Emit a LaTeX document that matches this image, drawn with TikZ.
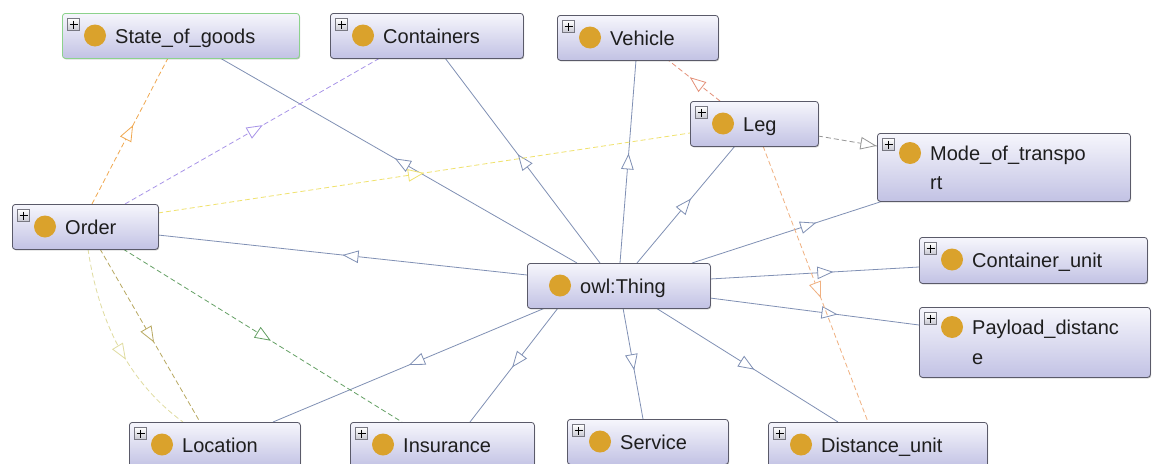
\documentclass[tikz,border=0pt]{standalone}
\usepackage{fontspec}
\setmainfont{Liberation Sans}
\usetikzlibrary{arrows.meta,decorations.markings,calc,backgrounds,shadows}

\definecolor{isacol}{RGB}{128,144,180}
\definecolor{boxtop}{RGB}{246,246,252}
\definecolor{boxbot}{RGB}{194,194,228}
\definecolor{boxline}{RGB}{90,90,105}
\definecolor{gold}{RGB}{218,162,44}
\definecolor{sogline}{RGB}{140,210,140}
\definecolor{txtcol}{RGB}{30,30,30}
\definecolor{corange}{RGB}{240,168,80}
\definecolor{cpurple}{RGB}{168,148,232}
\definecolor{cyellow}{RGB}{240,226,110}
\definecolor{cgrey}{RGB}{150,150,150}
\definecolor{cred}{RGB}{228,144,120}
\definecolor{corange2}{RGB}{240,176,128}
\definecolor{cpale}{RGB}{224,220,160}
\definecolor{colive}{RGB}{184,168,96}
\definecolor{cgreen}{RGB}{100,160,100}

\newcommand{\classbox}[8]{%
  \node[cbox,#6,minimum width=#4pt,minimum height=#5pt,anchor=north west] (#1) at (#2,#3) {};
  \node[golddot] (#1d) at ($(#1.north west)+(33,#7)$) {};
  \node[lbl] (#1t) at ($(#1.north west)+(53,#7+7.5)$) {#8};
}
\newcommand{\plusicon}[1]{%
  \node[plusbox] (#1p) at ($(#1.north west)+(11.5,11.5)$) {};
  \draw[line width=1.5pt,black] ($(#1p.center)+(-4,0)$) -- ($(#1p.center)+(4,0)$)
        ($(#1p.center)+(0,-4)$) -- ($(#1p.center)+(0,4)$);
}

\begin{document}
\begin{tikzpicture}[x=1pt,y=-1pt,
  cbox/.style={draw=boxline, line width=0.8pt, rounded corners=3pt,
    top color=boxtop, bottom color=boxbot, inner sep=0pt,
    drop shadow={shadow xshift=0.8pt, shadow yshift=-1pt, opacity=0.25, fill=black}},
  golddot/.style={circle, fill=gold, minimum size=22pt, inner sep=0pt},
  plusbox/.style={draw={rgb,255:red,120;green,120;blue,130}, line width=0.6pt,
    top color=white, bottom color={rgb,255:red,200;green,200;blue,210},
    minimum size=12pt, inner sep=0pt},
  lbl/.style={anchor=base west, inner sep=0pt, font=\fontsize{20}{24}\selectfont, text=txtcol},
  otri/.tip={Triangle[fill=white,length=16pt,width=12.5pt]},
  midarrow/.style={postaction={decorate},
    decoration={markings, mark=at position #1 with {\arrow{otri}}}},
  isa/.style={draw, color=isacol, line width=0.8pt},
  rel/.style={draw, line width=0.8pt, dash pattern=on 5pt off 3pt}]

\useasboundingbox (0,0) rectangle (1153,463);
\begin{scope}
\clip (0,0) rectangle (1153,463);
\classbox{sog}{62}{13}{237}{45}{draw=sogline}{22.5}{State\_of\_goods}\plusicon{sog}
\classbox{cont}{330}{13}{193}{45}{}{22.5}{Containers}\plusicon{cont}
\classbox{veh}{557}{15}{161}{45}{}{22.5}{Vehicle}\plusicon{veh}
\classbox{leg}{690}{101}{128}{45}{}{22.5}{Leg}\plusicon{leg}
\classbox{mode}{877}{133}{253}{68}{}{20}{\vtop{\baselineskip=29pt\hbox{Mode\_of\_transpo}\hbox{rt}}}\plusicon{mode}
\classbox{order}{12}{204}{146}{45}{}{22.5}{Order}\plusicon{order}
\classbox{thing}{527}{263}{183}{45}{}{22.5}{owl:Thing}
\classbox{cu}{919}{237}{228}{46}{}{22.5}{Container\_unit}\plusicon{cu}
\classbox{pd}{919}{307}{231}{70}{}{20}{\vtop{\baselineskip=30pt\hbox{Payload\_distanc}\hbox{e}}}\plusicon{pd}
\classbox{loc}{129}{422}{171}{45}{}{22.5}{Location}\plusicon{loc}
\classbox{ins}{350}{422}{184}{45}{}{22.5}{Insurance}\plusicon{ins}
\classbox{serv}{567}{419}{161}{45}{}{22.5}{Service}\plusicon{serv}
\classbox{du}{768}{422}{219}{45}{}{22.5}{Distance\_unit}\plusicon{du}
\end{scope}

\begin{pgfonlayer}{background}
\fill[white] (0,0) rectangle (1153,463);
% subclass edges from owl:Thing
\draw[isa,midarrow=0.50] ($(thing.north west)+(0,12)$) -- ($(order.north west)+(146,31)$);
\draw[isa,midarrow=0.51] ($(thing.north west)+(50,0)$) -- ($(sog.north west)+(158,45)$);
\draw[isa,midarrow=0.53] ($(thing.north west)+(73,0)$) -- ($(cont.north west)+(115,45)$);
\draw[isa,midarrow=0.54] ($(thing.north west)+(93,0)$) -- ($(veh.north west)+(79,45)$);
\draw[isa,midarrow=0.55] ($(thing.north west)+(110,0)$) -- ($(leg.north west)+(45,45)$);
\draw[isa,midarrow=0.65] ($(thing.north west)+(165,0)$) -- ($(mode.north west)+(6,68)$);
\draw[isa,midarrow=0.59] ($(thing.north west)+(183,16)$) -- ($(cu.north west)+(0,30)$);
\draw[isa,midarrow=0.61] ($(thing.north west)+(183,35)$) -- ($(pd.north west)+(0,18)$);
\draw[isa,midarrow=0.54] ($(thing.north west)+(129,45)$) -- ($(du.north west)+(70,0)$);
\draw[isa,midarrow=0.56] ($(thing.north west)+(96,45)$) -- ($(serv.north west)+(76,0)$);
\draw[isa,midarrow=0.52] ($(thing.north west)+(31,45)$) -- ($(ins.north west)+(120,0)$);
\draw[isa,midarrow=0.50] ($(thing.north west)+(18,45)$) -- ($(loc.north west)+(144,0)$);
% property edges
\draw[rel,color=corange,midarrow=0.54] ($(order.north west)+(80,0)$) -- ($(sog.north west)+(106,45)$);
\draw[rel,color=cpurple,midarrow=0.54] ($(order.north west)+(113,0)$) -- ($(cont.north west)+(50,45)$);
\draw[rel,color=cyellow,midarrow=0.50] ($(order.north west)+(146,9)$) -- ($(leg.north west)+(0,32)$);
\draw[rel,color=cgrey,midarrow=0.99] ($(leg.north west)+(128,35)$) -- ($(mode.north west)+(0,13)$);
\draw[rel,color=cred,midarrow=0.58] ($(leg.north west)+(30,0)$) -- ($(veh.north west)+(111,45)$);
\draw[rel,color=corange2,midarrow=0.55] ($(leg.north west)+(73,45)$) -- ($(du.north west)+(100,0)$);
\draw[rel,color=cpale,midarrow=0.58] ($(order.north west)+(76,45)$) .. controls +(11,76) and +(-52,-38) .. ($(loc.north west)+(54,0)$);
\draw[rel,color=colive,midarrow=0.54] ($(order.north west)+(88,45)$) -- ($(loc.north west)+(71,0)$);
\draw[rel,color=cgreen,midarrow=0.53] ($(order.north west)+(111,45)$) -- ($(ins.north west)+(52,0)$);
\end{pgfonlayer}
\end{tikzpicture}
\end{document}
